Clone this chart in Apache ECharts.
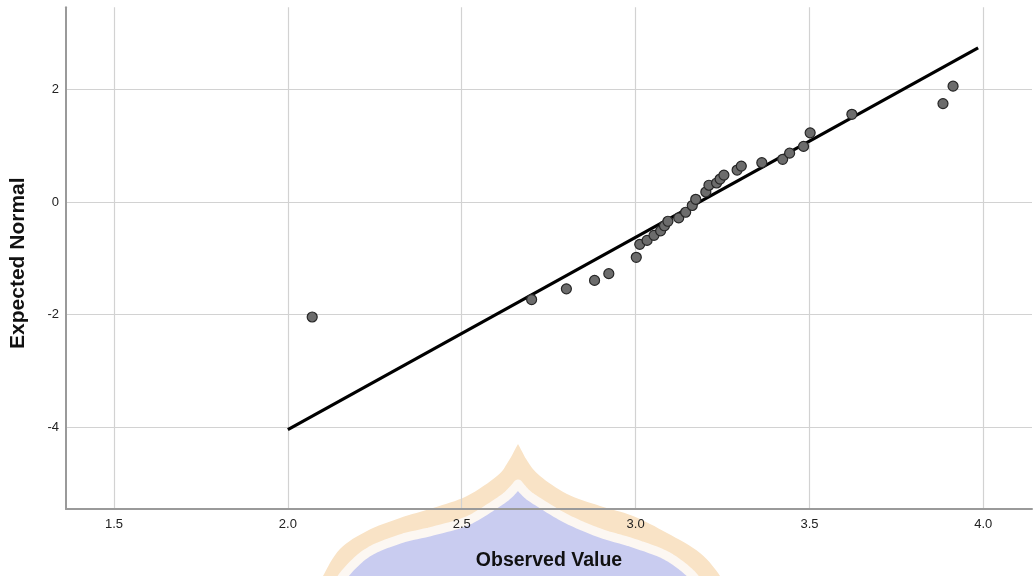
<!DOCTYPE html>
<html>
<head>
<meta charset="utf-8">
<script src="https://cdn.jsdelivr.net/npm/echarts@6/dist/echarts.min.js"></script>
<style>
html,body{margin:0;padding:0;background:#fff;}
#wrap{position:relative;width:1035px;height:576px;overflow:hidden;background:#fff;}
#mark{position:absolute;left:0;top:0;width:1035px;height:576px;}
#chart{position:absolute;left:0;top:0;width:1035px;height:576px;}
</style>
</head>
<body>
<div id="wrap">
<svg id="mark" xmlns="http://www.w3.org/2000/svg" width="1035" height="576"></svg>
<div id="chart"></div>
</div>
<script>
const observed = [2.070, 2.701, 2.801, 2.882, 2.923, 3.002, 3.012, 3.033, 3.053, 3.072, 3.083, 3.093, 3.124, 3.144, 3.163, 3.173, 3.202, 3.211, 3.233, 3.243, 3.254, 3.292, 3.304, 3.363, 3.423, 3.443, 3.483, 3.502, 3.622, 3.884, 3.913];
const expected = [-2.04, -1.73, -1.54, -1.39, -1.27, -0.98, -0.75, -0.68, -0.59, -0.51, -0.42, -0.34, -0.28, -0.18, -0.06, 0.05, 0.18, 0.30, 0.34, 0.41, 0.48, 0.57, 0.64, 0.70, 0.76, 0.87, 0.99, 1.23, 1.56, 1.75, 2.06];
// Reference line end points
const lineX = [2.0, 3.985];
const lineY = [-4.04, 2.74];
// Tick labels
const xTicks = [1.5, 2.0, 2.5, 3.0, 3.5, 4.0];
const yTicks = [-4, -2, 0, 2];

const xTitle = 'Observed Value';
const yTitle = 'Expected Normal';

// background watermark (decoration, not data)
function catmull(pts, steps) {
  const out = [];
  for (let i = 0; i < pts.length - 1; i++) {
    const p0 = pts[Math.max(i - 1, 0)], p1 = pts[i], p2 = pts[i + 1], p3 = pts[Math.min(i + 2, pts.length - 1)];
    for (let s = 0; s < steps; s++) {
      const t = s / steps, t2 = t * t, t3 = t2 * t;
      out.push([0, 1].map(k => 0.5 * ((2 * p1[k]) + (-p0[k] + p2[k]) * t + (2 * p0[k] - 5 * p1[k] + 4 * p2[k] - p3[k]) * t2 + (-p0[k] + 3 * p1[k] - 3 * p2[k] + p3[k]) * t3)));
    }
  }
  out.push(pts[pts.length - 1]);
  return out;
}
function dome(right, left) {
  const r = catmull(right, 8);
  const l = catmull(left, 8).reverse();
  return r.concat([[r[r.length - 1][0], 600], [l[0][0], 600]]).concat(l);
}
const outerR = [[518,444],[528,462],[540,476],[567,494],[600,506],[633,516],[667,533],[700,553],[720,576],[724,590]];
const outerL = [[518,444],[508,462],[497,476],[467,496],[433,508],[400,518],[367,531],[340,549],[323,576],[318,590]];
const innerR = [[518,484],[527,494],[540,503],[567,519],[600,533],[633,543],[667,556],[693,576],[698,590]];
const innerL = [[518,484],[509,494],[497,503],[467,521],[433,531],[400,539],[367,553],[343,576],[338,590]];
(function () {
  const svg = document.getElementById('mark');
  const ns = 'http://www.w3.org/2000/svg';
  const mk = (pts, fill, stroke, sw) => {
    const p = document.createElementNS(ns, 'polygon');
    p.setAttribute('points', pts.map(q => q[0].toFixed(1) + ',' + q[1].toFixed(1)).join(' '));
    p.setAttribute('fill', fill);
    if (stroke) { p.setAttribute('stroke', stroke); p.setAttribute('stroke-width', sw); p.setAttribute('stroke-linejoin', 'round'); }
    svg.appendChild(p);
  };
  mk(dome(outerR, outerL), '#f9e3c6');
  mk(dome(innerR, innerL), '#c9ccf0', '#fcf7f2', 9);
})();

const fmt = (ticks, digits) => (v) => {
  for (const t of ticks) if (Math.abs(v - t) < 1e-6) return t.toFixed(digits);
  return '';
};

const FONT = 'Liberation Sans, Arial, sans-serif';
const chart = echarts.init(document.getElementById('chart'), null, {renderer: 'canvas'});
chart.setOption({
  animation: false,
  backgroundColor: 'transparent',
  grid: {left: 66, right: 0, top: 7.3, bottom: 66.7, containLabel: false},
  xAxis: {
    type: 'value',
    min: 1.362, max: 4.14,
    splitNumber: 5,
    name: xTitle,
    nameLocation: 'middle',
    nameGap: 42,
    nameTextStyle: {fontFamily: FONT, fontWeight: 'bold', fontSize: 19.5, color: '#111'},
    axisLine: {show: true, onZero: false, lineStyle: {color: '#9a9a9a', width: 2}},
    axisTick: {show: false},
    axisLabel: {formatter: fmt(xTicks, 1), fontFamily: FONT, fontSize: 13, color: '#222', margin: 9},
    splitLine: {show: true, showMinLine: false, showMaxLine: false, lineStyle: {color: '#d2d2d2', width: 1.2}}
  },
  yAxis: {
    type: 'value',
    min: -5.45, max: 3.46,
    splitNumber: 5,
    name: yTitle,
    nameLocation: 'middle',
    nameGap: 37,
    nameRotate: 90,
    nameTextStyle: {fontFamily: FONT, fontWeight: 'bold', fontSize: 21, color: '#111', padding: [0, 10, 0, 0]},
    axisLine: {show: true, onZero: false, lineStyle: {color: '#9a9a9a', width: 2}},
    axisTick: {show: false},
    axisLabel: {formatter: fmt(yTicks, 0), fontFamily: FONT, fontSize: 13, color: '#222', margin: 7},
    splitLine: {show: true, showMinLine: false, showMaxLine: false, lineStyle: {color: '#d2d2d2', width: 1.2}}
  },
  series: [
    {
      type: 'line',
      data: lineX.map((x, i) => [x, lineY[i]]),
      symbol: 'none',
      lineStyle: {color: '#000', width: 3.2},
      z: 3,
      silent: true
    },
    {
      type: 'scatter',
      data: observed.map((x, i) => [x, expected[i]]),
      symbol: 'circle',
      symbolSize: 10,
      itemStyle: {color: '#6c6c6c', borderColor: '#262626', borderWidth: 1.2, opacity: 1},
      z: 4
    }
  ]
});
</script>
</body>
</html>
